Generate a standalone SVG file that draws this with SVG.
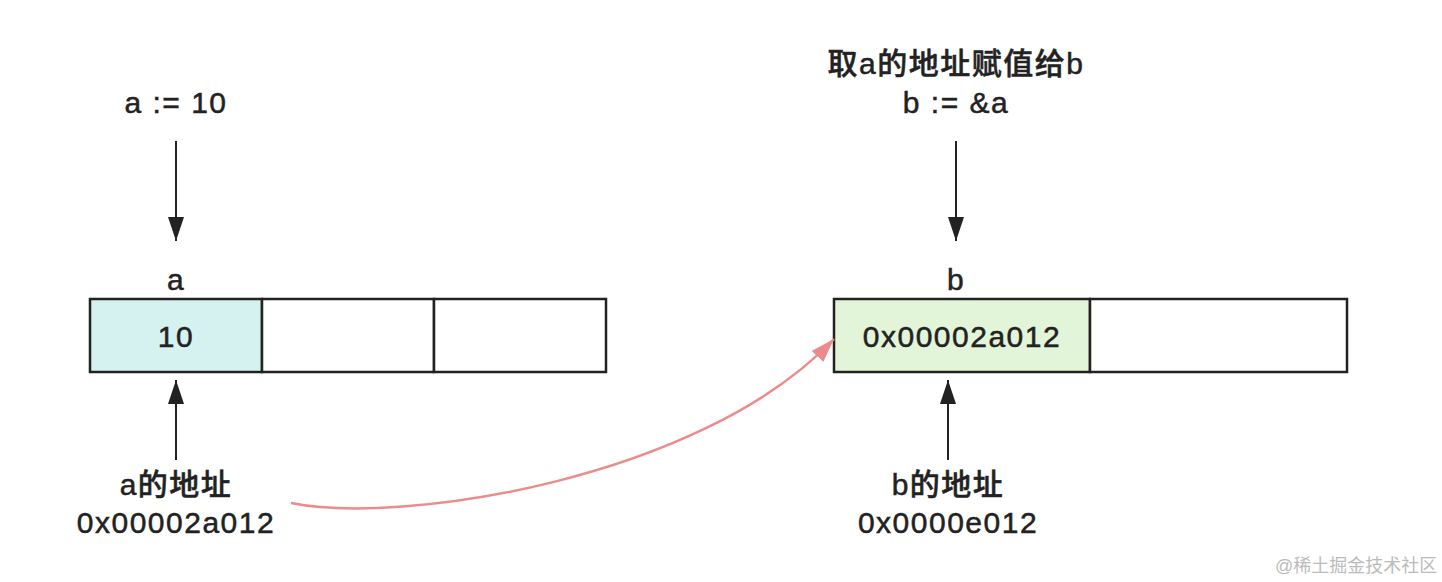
<svg xmlns="http://www.w3.org/2000/svg" width="1442" height="582" viewBox="0 0 1442 582">
<style>
text{font-family:"Liberation Sans","Noto Sans CJK SC",sans-serif;fill:#222;stroke:#222;stroke-width:0.5px;font-size:30px;font-weight:500;letter-spacing:1.5px;text-anchor:middle}
.cell{stroke:#222;stroke-width:2.5}
.ar{stroke:#222;stroke-width:2;fill:none}
.wm{font-size:18px;fill:#bbb;stroke:none;text-anchor:start;letter-spacing:0;font-weight:400}
</style>
<defs>
<marker id="ahk" viewBox="0 0 24 16" refX="24" refY="8" markerWidth="24" markerHeight="16" markerUnits="userSpaceOnUse" orient="auto">
<path d="M0,0 L24,8 L0,16 z" fill="#222"/>
</marker>
<marker id="ahr" viewBox="0 0 24 16" refX="24" refY="8" markerWidth="24" markerHeight="16" markerUnits="userSpaceOnUse" orient="auto">
<path d="M0,0 L24,8 L0,16 z" fill="#ec8b8b"/>
</marker>
</defs>
<rect width="1442" height="582" fill="#fff"/>
<g id="label-a-assign"><text x="176" y="113">a := 10</text></g>
<g id="array-a">
<rect class="cell" x="90" y="299" width="172" height="73" fill="#d5f2f0"/>
<rect class="cell" x="262" y="299" width="172" height="73" fill="#fff"/>
<rect class="cell" x="434" y="299" width="172" height="73" fill="#fff"/>
<text x="176" y="290">a</text>
<text x="176" y="347">10</text>
</g>
<g id="label-a-addr"><text x="176" y="495">a的地址</text><text x="176" y="533">0x00002a012</text></g>
<g id="label-b-assign"><text x="956" y="74">取a的地址赋值给b</text><text x="956" y="113">b := &amp;a</text></g>
<g id="array-b">
<rect class="cell" x="834" y="299" width="256" height="73" fill="#e2f5d9"/>
<rect class="cell" x="1090" y="299" width="257" height="73" fill="#fff"/>
<text x="956" y="290">b</text>
<text x="962" y="347">0x00002a012</text>
</g>
<g id="label-b-addr"><text x="948" y="495">b的地址</text><text x="948" y="533">0x0000e012</text></g>
<g id="connectors">
<line class="ar" x1="176" y1="141" x2="176" y2="241" marker-end="url(#ahk)"/>
<line class="ar" x1="176" y1="460" x2="176" y2="380" marker-end="url(#ahk)"/>
<line class="ar" x1="956" y1="141" x2="956" y2="241" marker-end="url(#ahk)"/>
<line class="ar" x1="948" y1="460" x2="948" y2="380" marker-end="url(#ahk)"/>
<path d="M291,503 C400,525 700,480 834,339" stroke="#ec8b8b" stroke-width="2.5" fill="none" marker-end="url(#ahr)"/>
</g>
<text class="wm" x="1275" y="572">@稀土掘金技术社区</text>
</svg>
